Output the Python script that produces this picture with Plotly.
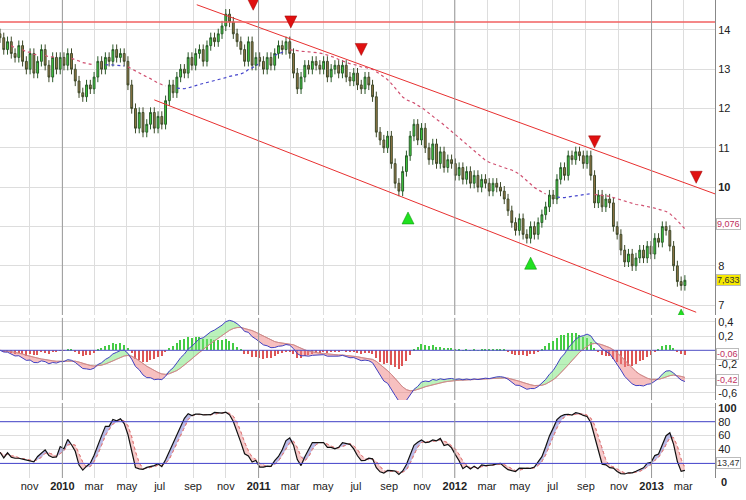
import numpy as np, pandas as pd
import plotly.graph_objects as go
from plotly.subplots import make_subplots

start = "2009-09-07"
closes = [13.8,13.5,13.7,13.4, 13.3,13.6,13.2,13.0, 13.4,12.9,13.2,13.5,13.1, 12.8,13.3,13.0,13.3,
 13.1,13.4,13.0,12.7, 12.4,12.3,12.6,12.5, 12.8,13.2,13.0,13.3,13.2, 13.5,13.3,13.4,13.2,
 12.6,12.0,11.5,11.9,11.4, 11.6,11.9,11.5,11.8, 11.6,12.2,12.6,12.4, 12.8,13.0,12.9,13.3,13.1,
 13.4,13.5,13.2,13.6, 13.8,13.7,13.9,14.1, 14.4,14.2,13.9,13.7,13.5, 13.2,13.7,13.1,13.3,
 13.2,13.0,13.3,13.1,13.4, 13.6,13.5,13.7,13.4, 12.9,12.5,12.8,13.1, 13.0,13.2,13.1,13.0,
 13.2,12.8,13.0,13.1,12.9, 13.1,12.8,12.7,12.9, 12.6,12.5,12.8,12.6, 12.3,11.4,11.2,11.0,11.3,
 10.6,10.1,9.9,10.4, 10.8,11.3,11.6,11.2,11.5, 11.0,10.7,11.1,10.6, 10.9,10.5,10.7,10.6,
 10.3,10.5,10.2,10.4,10.1, 10.3,10.0,10.2,10.1, 9.9,10.1,10.0,9.9, 9.7,9.4,9.1,8.9,9.2,
 8.8,8.7,9.0,8.8, 9.1,9.3,9.5,9.8, 9.7,10.2,10.5,10.3,10.8, 10.7,10.9,10.8,10.6,
 10.8,10.3,9.6,9.8, 9.5,9.7,9.6,9.0,8.8, 8.4,8.1,8.3,8.0, 8.2,8.4,8.2,8.5,8.3,
 8.7,8.6,9.0,8.9, 8.5,8.0,7.6,7.5, 7.633]
first_open = 13.9
wick = 0.13

red_dates = ["2010-12-22","2011-03-02","2011-07-11","2012-09-17","2013-03-25"]
red_prices = [14.5,14.05,13.35,11.0,10.1]
green_dates = ["2011-10-06","2012-05-21","2013-02-25"]
green_prices = [9.37,8.22,6.9]

upper_chan = (["2010-09-08","2013-06-24"],[14.64,9.55])
lower_chan = (["2010-06-21","2013-03-25"],[12.22,6.82])
resist = 14.2

tick_dates = ["2009-09-01","2009-11-01","2010-01-01","2010-03-01","2010-05-01","2010-07-01","2010-09-01","2010-11-01",
 "2011-01-01","2011-03-01","2011-05-01","2011-07-01","2011-09-01","2011-11-01","2012-01-01","2012-03-01","2012-05-01",
 "2012-07-01","2012-09-01","2012-11-01","2013-01-01","2013-03-01"]
tick_text = ["sep","nov","<b>2010</b>","mar","may","jul","sep","nov","<b>2011</b>","mar","may","jul","sep","nov",
 "<b>2012</b>","mar","may","jul","sep","nov","<b>2013</b>","mar"]
year_lines = ["2010-01-01","2011-01-01","2012-01-01","2013-01-01"]

dates = pd.date_range(start, periods=len(closes), freq="7D")
c = np.array(closes)
o = np.concatenate([[first_open], c[:-1]])
h = np.maximum(o, c) + wick
l = np.minimum(o, c) - wick
s = pd.Series(c)

ma = s.rolling(30, min_periods=1).mean().values
ma_blue = np.where(ma <= c, ma, np.nan)
ma_red = np.where(ma > c, ma, np.nan)

ema12 = s.ewm(span=12, adjust=False).mean(); ema26 = s.ewm(span=26, adjust=False).mean()
macd = (ema12 - ema26).values
sig = pd.Series(macd).ewm(span=9, adjust=False).mean().values
hist = macd - sig

hh = pd.Series(h).rolling(14, min_periods=1).max(); ll = pd.Series(l).rolling(14, min_periods=1).min()
kraw = 100 * (s - ll) / (hh - ll)
K = kraw.rolling(3, min_periods=1).mean().values
D = pd.Series(K).rolling(3, min_periods=1).mean().values

fig = make_subplots(rows=3, cols=1, shared_xaxes=True)
fig.add_trace(go.Candlestick(x=dates, open=o, high=h, low=l, close=c,
    increasing=dict(fillcolor="#3fd83f", line=dict(color="#2a5a2a", width=1)),
    decreasing=dict(fillcolor="#9a7a48", line=dict(color="#3e4a2a", width=1)),
    whiskerwidth=0), 1, 1)
fig.add_trace(go.Scatter(x=dates, y=ma_blue, mode="lines", line=dict(color="#4444cc", dash="dot", width=1.2)), 1, 1)
fig.add_trace(go.Scatter(x=dates, y=ma_red, mode="lines", line=dict(color="#d05070", dash="dot", width=1.2)), 1, 1)
fig.add_trace(go.Scatter(x=upper_chan[0], y=upper_chan[1], mode="lines", line=dict(color="#e83030", width=1)), 1, 1)
fig.add_trace(go.Scatter(x=lower_chan[0], y=lower_chan[1], mode="lines", line=dict(color="#e83030", width=1)), 1, 1)
fig.add_trace(go.Scatter(x=["2009-09-01","2013-05-01"], y=[resist, resist], mode="lines", line=dict(color="#f06060", width=1.5)), 1, 1)
fig.add_trace(go.Scatter(x=red_dates, y=red_prices, mode="markers",
    marker=dict(symbol="arrow-down", size=12, color="#e01010", line=dict(color="#900", width=0.5))), 1, 1)
fig.add_trace(go.Scatter(x=green_dates, y=green_prices, mode="markers",
    marker=dict(symbol="arrow-up", size=12, color="#20e020", line=dict(color="#080", width=0.5))), 1, 1)

# MACD
fig.add_trace(go.Bar(x=dates, y=hist, marker_color=np.where(hist >= 0, "#44cc44", "#dd5555"),
                     marker_line_width=0, width=1000*86400*2.5), 2, 1)
fig.add_trace(go.Scatter(x=dates, y=sig, mode="lines", line=dict(color="#cc8888", width=0.8)), 2, 1)
fig.add_trace(go.Scatter(x=dates, y=np.maximum(macd, sig), mode="lines", line=dict(width=0), fill="tonexty", fillcolor="rgba(120,230,120,0.5)"), 2, 1)
fig.add_trace(go.Scatter(x=dates, y=sig, mode="lines", line=dict(color="#cc8888", width=0.8)), 2, 1)
fig.add_trace(go.Scatter(x=dates, y=np.minimum(macd, sig), mode="lines", line=dict(width=0), fill="tonexty", fillcolor="rgba(240,130,130,0.5)"), 2, 1)
fig.add_trace(go.Scatter(x=dates, y=macd, mode="lines", line=dict(color="#4040c0", width=1)), 2, 1)
fig.add_trace(go.Scatter(x=["2009-09-01","2013-05-01"], y=[0, 0], mode="lines", line=dict(color="#5555cc", width=1)), 2, 1)

# Stochastic
fig.add_trace(go.Scatter(x=dates, y=D, mode="lines", line=dict(color="#e08080", width=1, dash="dot")), 3, 1)
fig.add_trace(go.Scatter(x=dates, y=np.maximum(K, D), mode="lines", line=dict(width=0), fill="tonexty", fillcolor="rgba(120,120,210,0.5)"), 3, 1)
fig.add_trace(go.Scatter(x=dates, y=D, mode="lines", line=dict(color="#e08080", width=1, dash="dot")), 3, 1)
fig.add_trace(go.Scatter(x=dates, y=np.minimum(K, D), mode="lines", line=dict(width=0), fill="tonexty", fillcolor="rgba(240,150,150,0.5)"), 3, 1)
fig.add_trace(go.Scatter(x=dates, y=K, mode="lines", line=dict(color="#111111", width=1.2)), 3, 1)
for lv in (80, 20):
    fig.add_trace(go.Scatter(x=["2009-09-01","2013-05-01"], y=[lv, lv], mode="lines", line=dict(color="#4444cc", width=1)), 3, 1)

xr = ["2009-09-07", "2013-04-29"]
ax = dict(range=xr, autorange=False, type="date", tickvals=tick_dates, ticktext=tick_text, showgrid=True, gridcolor="#dddddd",
          showline=False, zeroline=False, ticks="", tickfont=dict(family="Arial", size=11, color="#222"))
yf = dict(family="Arial", size=11, color="#222")
fig.update_layout(width=746, height=500, margin=dict(l=0, r=31, t=0, b=22, autoexpand=False), showlegend=False,
    plot_bgcolor="white", paper_bgcolor="white", bargap=0,
    xaxis=dict(ax, domain=[0, 1], showticklabels=False, rangeslider=dict(visible=False)),
    xaxis2=dict(ax, domain=[0, 1], showticklabels=False),
    xaxis3=dict(ax, domain=[0, 1], showticklabels=True),
    yaxis=dict(domain=[0.341, 1], range=[6.75, 14.76], side="right", tickvals=[7,8,9,10,11,12,13,14],
               ticktext=["7","8","","<b>10</b>","11","12","13","14"], gridcolor="#dddddd", zeroline=False,
               tickfont=yf, showline=True, linecolor="#888", mirror=True, automargin=False),
    yaxis2=dict(domain=[0.163, 0.335], range=[-0.70, 0.456], side="right", tickvals=[0.4,0.2,0,-0.2,-0.4,-0.6],
               ticktext=["0,4","0,2","","-0,2","","-0,6"], gridcolor="#dddddd", zeroline=False,
               tickfont=yf, showline=True, linecolor="#888", mirror=True, automargin=False),
    yaxis3=dict(domain=[0, 0.157], range=[-1, 107], side="right", tickvals=[100,80,60,40,20,0],
               ticktext=["<b>100</b>","80","60","40","",""], gridcolor="#dddddd", zeroline=False,
               tickfont=yf, showline=True, linecolor="#888", mirror=True, automargin=False))
for yl in year_lines:
    fig.add_vline(x=yl, line=dict(color="#999999", width=1))

def box(y, yref, text, color, bg):
    fig.add_annotation(x=1.0, xref="paper", xshift=1, y=y, yref=yref, text=text, showarrow=False, xanchor="left",
        font=dict(family="Arial", size=9, color=color), bgcolor=bg, bordercolor="#bbbbbb", borderwidth=1, borderpad=0)
box(9.076, "y", "9,076", "#c03060", "white")
box(c[-1], "y", f"{c[-1]:.3f}".replace(".", ","), "#333", "#f5e800")
box(-0.05, "y2", "-0,06", "#c03060", "white")
box(-0.42, "y2", "-0,42", "#c03060", "white")
box(21, "y3", "13,47", "#333", "white")
fig.add_annotation(x=1.0, xref="paper", xshift=4, y=0, yref="y3", yanchor="top", yshift=3, text="<b>0</b>", showarrow=False,
                   xanchor="left", font=yf)
fig.write_html("out.html", config={"displayModeBar": False},
               post_script="document.body.style.margin='0';document.body.style.overflow='hidden';")
